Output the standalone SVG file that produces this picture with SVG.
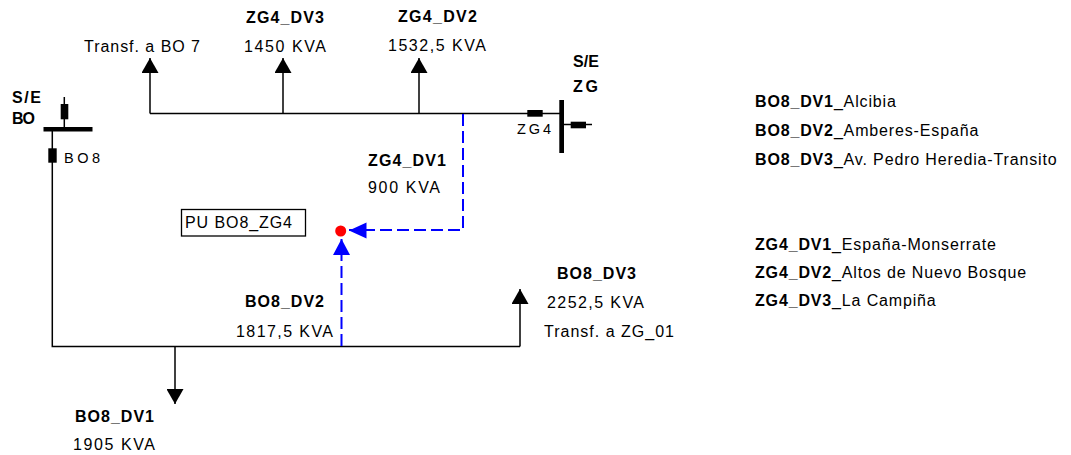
<svg xmlns="http://www.w3.org/2000/svg" width="1071" height="455" viewBox="0 0 1071 455">
<style>
text{font-family:"Liberation Sans",Arial,sans-serif;font-size:16px;fill:#000}
.b{font-weight:bold}
.sm{font-size:14.5px}
.ln{stroke:#000;stroke-width:1.5;fill:none}
.bus{fill:#000}
.blue{stroke:#0000ff;stroke-width:2;stroke-dasharray:12 5;fill:none}
.leg{letter-spacing:0.85px}
</style>
<defs>
<marker id="ah" viewBox="0 0 15 17" refX="15" refY="8.5" markerWidth="15" markerHeight="17" markerUnits="userSpaceOnUse" orient="auto">
<path d="M0,0 L15,8.5 L0,17 Z" fill="#000"/>
</marker>
</defs>
<rect width="1071" height="455" fill="#fff"/>

<g id="connectors">
<path class="ln" d="M150,113.5 H561"/>
<path class="ln" d="M150,113.5 V58" marker-end="url(#ah)"/>
<path class="ln" d="M283,113.5 V58" marker-end="url(#ah)"/>
<path class="ln" d="M419,113.5 V58" marker-end="url(#ah)"/>
<path class="ln" d="M52.3,131 V346.5 H520"/>
<path class="ln" d="M520,346.5 V289" marker-end="url(#ah)"/>
<path class="ln" d="M175,346.5 V404" marker-end="url(#ah)"/>
<path class="blue" d="M463,114 V230 H349"/>
<path class="blue" d="M341.5,346 V239"/>
<path d="M349,230.5 L366.5,222.5 L366.5,238.5 Z" fill="#0000ff"/>
<path d="M341.5,239 L333,255 L350,255 Z" fill="#0000ff"/>
</g>

<g id="se-bo">
<rect class="bus" x="43.5" y="127" width="49" height="4.5"/>
<path class="ln" d="M64.3,97 V127"/>
<rect class="bus" x="60.7" y="104" width="7.6" height="15.3"/>
<rect class="bus" x="48.3" y="148.3" width="8.4" height="14.4"/>
<text class="b" x="12" y="103" textLength="29">S/E</text>
<text class="b" x="12" y="124" textLength="23">BO</text>
<text class="sm" x="64" y="163" textLength="36">BO8</text>
</g>

<g id="se-zg">
<rect class="bus" x="559.3" y="100" width="4.7" height="53"/>
<rect class="bus" x="527.3" y="110" width="15.4" height="6.7"/>
<path class="ln" d="M562,124.5 H592"/>
<rect class="bus" x="570.7" y="121.7" width="15.3" height="6.6"/>
<text class="b" x="573" y="67" textLength="26">S/E</text>
<text class="b" x="573" y="92" textLength="25">ZG</text>
<text class="sm" x="517" y="134" textLength="34">ZG4</text>
</g>

<g id="load-transf-bo7">
<text x="84" y="52" textLength="116">Transf. a BO 7</text>
</g>
<g id="load-zg4-dv3">
<text class="b" x="246" y="23" textLength="78">ZG4_DV3</text>
<text x="244" y="52" textLength="82">1450 KVA</text>
</g>
<g id="load-zg4-dv2">
<text class="b" x="398" y="22" textLength="79">ZG4_DV2</text>
<text x="388" y="51" textLength="98">1532,5 KVA</text>
</g>
<g id="load-zg4-dv1">
<text class="b" x="368" y="166" textLength="78">ZG4_DV1</text>
<text x="368" y="193" textLength="72">900 KVA</text>
</g>
<g id="pu-bo8-zg4">
<rect x="181.5" y="209.5" width="124" height="26.5" fill="#fff" stroke="#000" stroke-width="1.3"/>
<text x="185" y="228" textLength="107">PU BO8_ZG4</text>
<circle cx="340.7" cy="231" r="5.5" fill="#ff0000"/>
</g>
<g id="load-bo8-dv2">
<text class="b" x="245" y="307" textLength="79">BO8_DV2</text>
<text x="236" y="337" textLength="97">1817,5 KVA</text>
</g>
<g id="load-bo8-dv1">
<text class="b" x="75" y="422" textLength="79">BO8_DV1</text>
<text x="73" y="450" textLength="82">1905 KVA</text>
</g>
<g id="load-bo8-dv3">
<text class="b" x="557" y="279" textLength="79">BO8_DV3</text>
<text x="547" y="308" textLength="97">2252,5 KVA</text>
<text x="544" y="337" textLength="130">Transf. a ZG_01</text>
</g>

<g id="legend">
<text class="leg" x="755" y="107"><tspan class="b">BO8_DV1</tspan>_Alcibia</text>
<text class="leg" x="755" y="136"><tspan class="b">BO8_DV2</tspan>_Amberes-España</text>
<text class="leg" x="755" y="165"><tspan class="b">BO8_DV3</tspan>_Av. Pedro Heredia-Transito</text>
<text class="leg" x="755" y="250"><tspan class="b">ZG4_DV1</tspan>_España-Monserrate</text>
<text class="leg" x="755" y="278"><tspan class="b">ZG4_DV2</tspan>_Altos de Nuevo Bosque</text>
<text class="leg" x="755" y="306"><tspan class="b">ZG4_DV3</tspan>_La Campiña</text>
</g>
</svg>
